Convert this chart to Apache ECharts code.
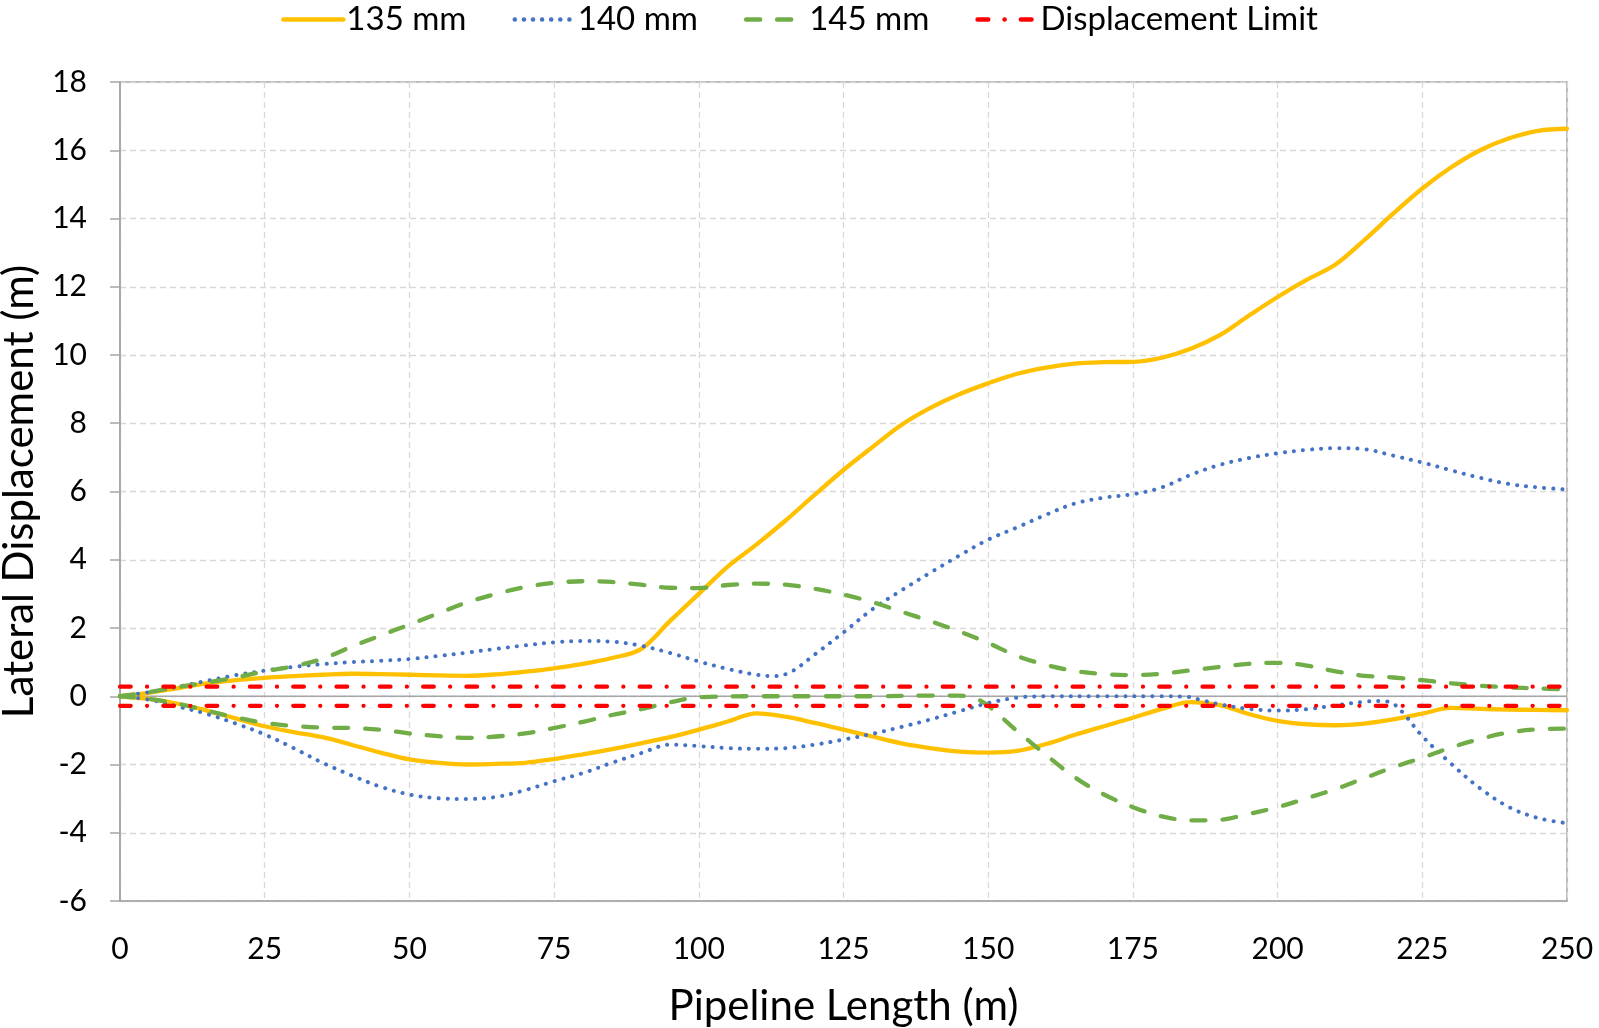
<!DOCTYPE html>
<html>
<head>
<meta charset="utf-8">
<script src="https://cdn.jsdelivr.net/npm/echarts@6/dist/echarts.min.js"></script>
<style>
html,body{margin:0;padding:0;background:#fff;}
#chart{width:1599px;height:1028px;}
</style>
</head>
<body>
<div id="chart"></div>
<script>
// ---- Data ----
const xGrid5 = [0,5,10,15,20,25,30,35,40,45,50,55,60,65,70,75,80,85,90,95,100,105,110,115,120,125,130,135,140,145,150,155,160,165,170,175,180,185,190,195,200,205,210,215,220,225,230,235,240,245,250];

const y135Upper = [0,0.1,0.24,0.38,0.47,0.54,0.59,0.63,0.66,0.65,0.63,0.61,0.6,0.64,0.72,0.82,0.95,1.12,1.38,2.2,3.0,3.8,4.45,5.15,5.9,6.63,7.3,7.95,8.45,8.85,9.17,9.45,9.63,9.75,9.79,9.8,9.92,10.18,10.58,11.15,11.7,12.2,12.65,13.37,14.15,14.88,15.5,16.0,16.35,16.57,16.63];
const y135Lower = [0,-0.08,-0.22,-0.42,-0.65,-0.88,-1.05,-1.2,-1.42,-1.65,-1.85,-1.95,-2.0,-1.98,-1.95,-1.84,-1.7,-1.55,-1.38,-1.2,-0.98,-0.74,-0.5,-0.6,-0.78,-0.98,-1.18,-1.38,-1.52,-1.62,-1.65,-1.6,-1.4,-1.13,-0.88,-0.63,-0.37,-0.17,-0.26,-0.52,-0.72,-0.82,-0.85,-0.8,-0.68,-0.51,-0.34,-0.37,-0.39,-0.4,-0.41];

const x140Upper = [0,5,10,15,20,25,30,35,40,45,50,55,60,65,70,75,80,85,90,95,100,105,110,113,116,120,125,130,135,140,145,150,155,160,165,170,175,180,185,190,195,200,205,210,215,220,225,230,235,240,245,250];
const y140Upper = [0,0.12,0.28,0.45,0.62,0.75,0.86,0.94,1.0,1.04,1.09,1.18,1.28,1.39,1.49,1.58,1.62,1.6,1.48,1.27,1.02,0.8,0.63,0.59,0.72,1.22,1.87,2.55,3.1,3.62,4.12,4.59,4.95,5.32,5.65,5.82,5.92,6.12,6.49,6.78,6.98,7.12,7.22,7.27,7.24,7.05,6.85,6.62,6.4,6.22,6.12,6.06];
const x140Lower = [0,5,10,15,20,25,30,35,40,45,50,55,60,65,70,75,80,85,90,95,100,105,110,115,120,125,130,135,140,145,150,155,160,170,180,184,187,190,195,200,205,210,215,218,220,222,225,230,235,240,245,250];
const y140Lower = [0,-0.1,-0.3,-0.52,-0.8,-1.12,-1.52,-1.95,-2.32,-2.65,-2.88,-2.99,-3.01,-2.95,-2.75,-2.49,-2.25,-1.95,-1.67,-1.42,-1.46,-1.52,-1.54,-1.52,-1.42,-1.27,-1.1,-0.9,-0.68,-0.44,-0.2,-0.04,0,0,0,-0.01,-0.12,-0.24,-0.37,-0.42,-0.38,-0.27,-0.16,-0.14,-0.22,-0.55,-1.17,-1.98,-2.7,-3.25,-3.57,-3.72];

const y145Upper = [0,0.12,0.27,0.4,0.55,0.73,0.88,1.1,1.45,1.78,2.1,2.43,2.75,3.0,3.2,3.32,3.37,3.35,3.27,3.18,3.17,3.26,3.3,3.27,3.15,2.98,2.76,2.48,2.2,1.9,1.56,1.18,0.92,0.74,0.65,0.62,0.66,0.76,0.86,0.95,0.98,0.9,0.73,0.6,0.55,0.47,0.38,0.31,0.26,0.23,0.2];
const x145Lower = [0,5,10,15,20,25,30,35,40,45,50,55,60,65,70,75,80,85,90,95,100,110,120,130,140,145,148,150,153,155,160,165,170,175,180,185,190,195,200,205,210,215,220,225,230,235,240,245,250];
const y145Lower = [0,-0.08,-0.22,-0.42,-0.62,-0.78,-0.87,-0.92,-0.93,-0.98,-1.09,-1.17,-1.22,-1.18,-1.09,-0.93,-0.75,-0.55,-0.38,-0.18,-0.03,0,0,0,0.02,0.02,-0.08,-0.28,-0.72,-1.02,-1.72,-2.38,-2.88,-3.25,-3.52,-3.64,-3.62,-3.45,-3.25,-2.99,-2.72,-2.4,-2.08,-1.8,-1.5,-1.25,-1.06,-0.97,-0.95];

const limitX = [0, 250];
const limitValue = 0.28;

const legendNames = ['135 mm', '140 mm', '145 mm', 'Displacement Limit'];
const xTicks = {min: 0, max: 250, interval: 25};
const yTicks = {min: -6, max: 18, interval: 2};

// ---- Build ----
function pairs(xs, ys) { return xs.map((x, i) => [x, ys[i]]); }

const FONT = 'Lato';
const C135 = '#FFC000', C140 = '#4472C4', C145 = '#70AD47', CLIM = '#FF0000';

const style135 = {color: C135, width: 4.3, type: 'solid', cap: 'round', join: 'round'};
const style140 = {color: C140, width: 4, type: [0.1, 9], cap: 'round', join: 'round'};
const style145 = {color: C145, width: 4.3, type: [14, 17], cap: 'round', join: 'round'};
const styleLim = {color: CLIM, width: 4.2, type: [10.7, 16.3, 0.1, 16.2], cap: 'round'};

function lineSeries(name, data, ls, z) {
  return {
    name: name, type: 'line', data: data, smooth: 0.35, showSymbol: false, symbol: 'none',
    lineStyle: ls, itemStyle: {color: ls.color}, z: z, silent: true, clip: true
  };
}

const series = [
  {
    name: 'zero', type: 'line', data: pairs(limitX, [0, 0]), showSymbol: false, symbol: 'none',
    lineStyle: {color: '#A6A6A6', width: 1.6}, z: 1, silent: true
  },
  lineSeries('135 mm', pairs(xGrid5, y135Upper), style135, 3),
  lineSeries('135 mm', pairs(xGrid5, y135Lower), style135, 3),
  lineSeries('140 mm', pairs(x140Upper, y140Upper), style140, 3),
  lineSeries('140 mm', pairs(x140Lower, y140Lower), style140, 3),
  lineSeries('145 mm', pairs(xGrid5, y145Upper), style145, 3),
  lineSeries('145 mm', pairs(x145Lower, y145Lower), style145, 3),
  lineSeries('Displacement Limit', pairs(limitX, [limitValue, limitValue]), styleLim, 4),
  lineSeries('Displacement Limit', pairs(limitX, [-limitValue, -limitValue]), styleLim, 4)
];
series[7].smooth = false; series[8].smooth = false;

const chart = echarts.init(document.getElementById('chart'), null, {renderer: 'canvas'});
chart.setOption({
  animation: false,
  backgroundColor: '#fff',
  textStyle: {fontFamily: FONT},
  legend: {
    data: legendNames,
    top: -2,
    left: 'center',
    itemWidth: 60,
    itemHeight: 14,
    itemGap: 46,
    itemStyle: {opacity: 0},
    lineStyle: {width: 4.5},
    textStyle: {fontFamily: FONT, fontSize: 33, color: '#000', padding: [0, 0, 0, -2]},
    selectedMode: false
  },
  grid: {
    left: 120, right: 32, top: 82, bottom: 127,
    outerBoundsMode: 'none', containLabel: false,
    show: true, borderColor: '#A6A6A6', borderWidth: 1.5, backgroundColor: 'transparent'
  },
  xAxis: {
    type: 'value', min: xTicks.min, max: xTicks.max, interval: xTicks.interval,
    name: 'Pipeline Length (m)', nameLocation: 'middle', nameGap: 84,
    nameTextStyle: {fontFamily: FONT, fontSize: 42, color: '#000'},
    axisLine: {show: true, onZero: false, lineStyle: {color: '#A6A6A6', width: 1.5}},
    axisTick: {show: false},
    axisLabel: {fontFamily: FONT, fontSize: 30, color: '#000', margin: 33},
    splitLine: {show: true, lineStyle: {color: '#D9D9D9', width: 1.3, type: [6, 4]}}
  },
  yAxis: {
    type: 'value', min: yTicks.min, max: yTicks.max, interval: yTicks.interval,
    name: 'Lateral Displacement (m)', nameLocation: 'middle', nameGap: 80,
    nameTextStyle: {fontFamily: FONT, fontSize: 42, color: '#000'},
    axisLine: {show: true, onZero: false, lineStyle: {color: '#A6A6A6', width: 1.8}},
    axisTick: {show: true, inside: false, length: 10, lineStyle: {color: '#A6A6A6', width: 1.5}},
    axisLabel: {fontFamily: FONT, fontSize: 30, color: '#000', margin: 33},
    splitLine: {show: true, lineStyle: {color: '#D9D9D9', width: 1.3, type: [6, 4]}}
  },
  series: series
});
</script>
</body>
</html>
